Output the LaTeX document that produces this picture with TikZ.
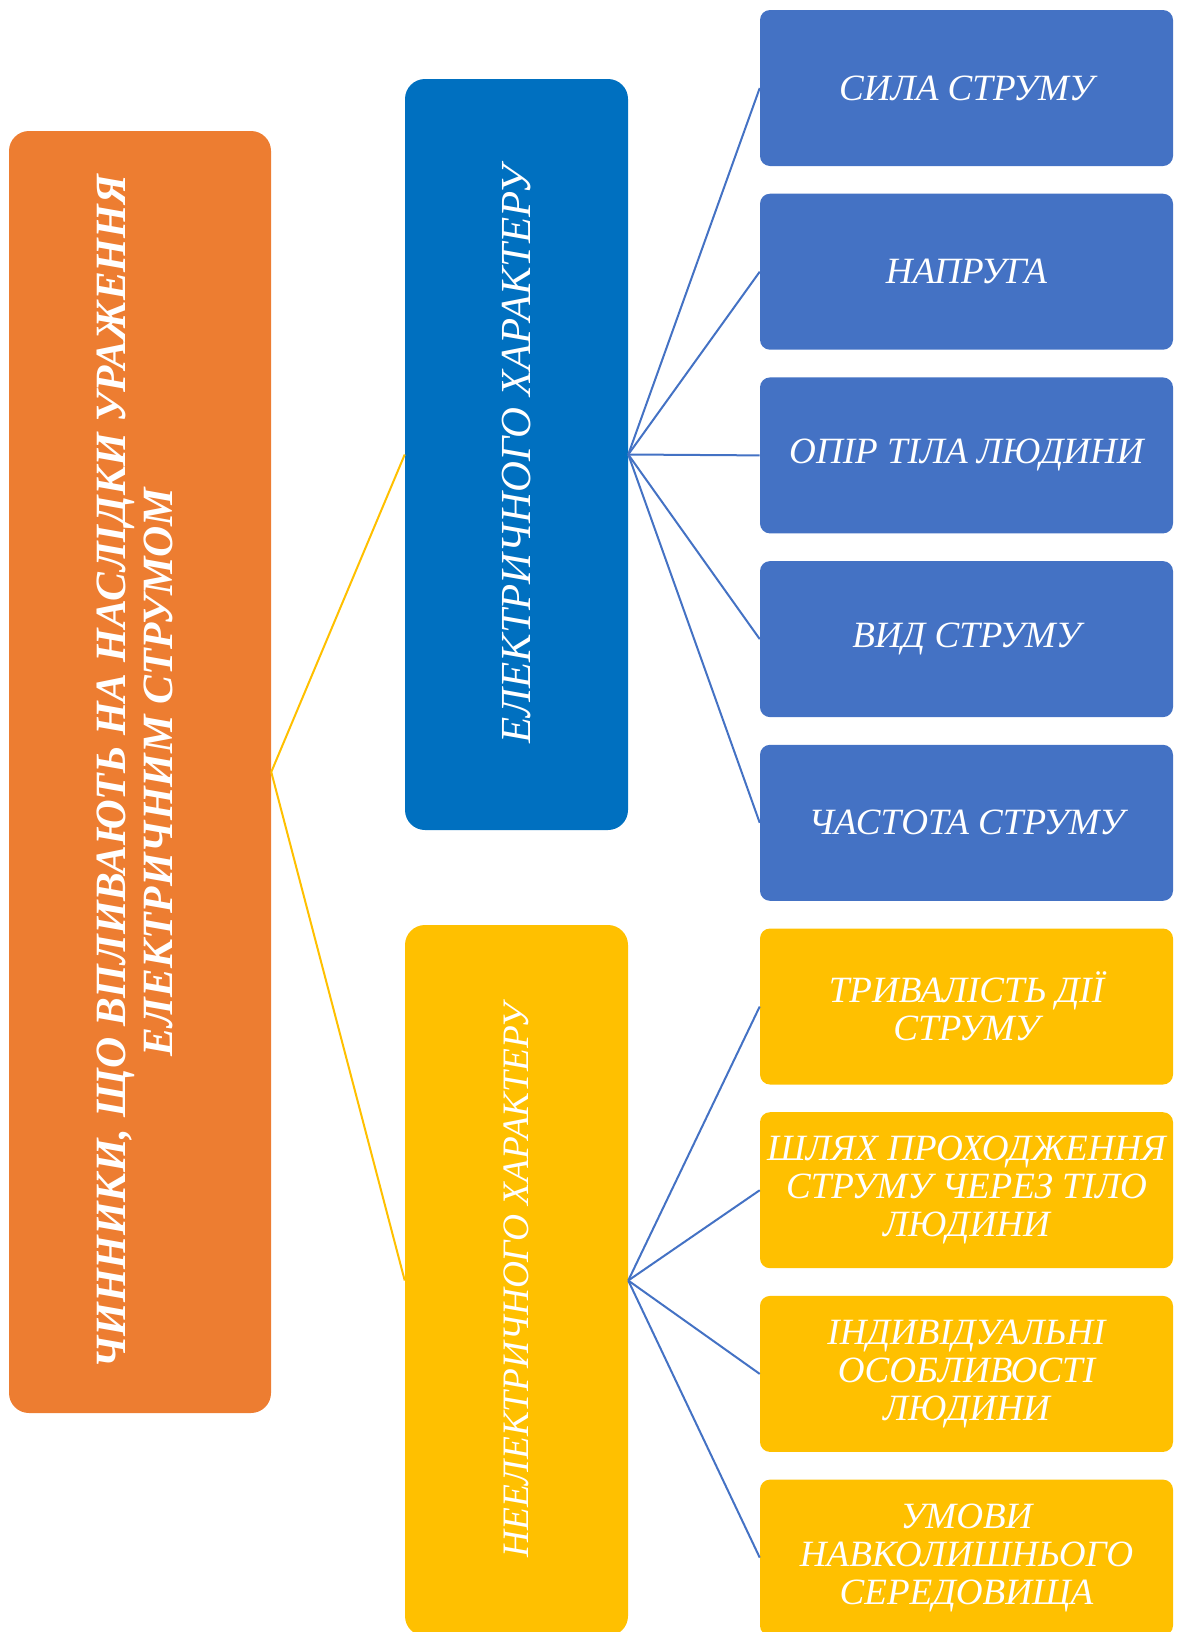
\documentclass[tikz,border=0pt]{standalone}
\usepackage{fontspec}
\setmainfont{Liberation Serif}
\definecolor{factorsorange}{HTML}{ED7D31}
\definecolor{elecblue}{HTML}{0070C0}
\definecolor{itemblue}{HTML}{4472C4}
\definecolor{nonelecyellow}{HTML}{FFC000}
\tikzset{
  mainbox/.style={rounded corners=15pt, inner sep=0pt, text=white, fill=factorsorange,
    minimum width=196.5pt, minimum height=961.5pt},
  midbox/.style={rounded corners=15pt, inner sep=0pt, text=white, minimum width=167.25pt},
  itembox/.style={rounded corners=7.5pt, inner sep=0pt, text=white, align=center,
    minimum width=309.75pt, minimum height=117pt,
    font=\fontsize{27.8}{28.5}\selectfont\itshape},
  link/.style={draw=itemblue, line width=1.5pt},
  mainlink/.style={draw=nonelecyellow, line width=1.5pt}
}
\begin{document}
\begin{tikzpicture}[x=0.75pt,y=-0.75pt]
\useasboundingbox (0,0) rectangle (1179,1632);
\node[mainbox] (factors) at (140,772) {\rotatebox{90}{\fontsize{32.4}{35}\selectfont\bfseries\itshape
  \begin{tabular}{@{}c@{}}ЧИННИКИ, ЩО ВПЛИВАЮТЬ НА НАСЛІДКИ УРАЖЕННЯ\\ЕЛЕКТРИЧНИМ СТРУМОМ\end{tabular}}};
\node[midbox, fill=elecblue, minimum height=563.25pt] (elec) at (516.5,454.5)
  {\rotatebox{90}{\fontsize{32.1}{32}\selectfont\itshape ЕЛЕКТРИЧНОГО ХАРАКТЕРУ}};
\node[midbox, fill=nonelecyellow, minimum height=533.25pt] (nonelec) at (516.5,1280.5)
  {\rotatebox{90}{\fontsize{28}{28}\selectfont\itshape НЕЕЛЕКТРИЧНОГО ХАРАКТЕРУ}};
% electrical factors
\node[itembox, fill=itemblue] (e1) at (966.5,88) {СИЛА СТРУМУ};
\node[itembox, fill=itemblue] (e2) at (966.5,271.7) {НАПРУГА};
\node[itembox, fill=itemblue] (e3) at (966.5,455.4) {ОПІР ТІЛА ЛЮДИНИ};
\node[itembox, fill=itemblue] (e4) at (966.5,639.1) {ВИД СТРУМУ};
\node[itembox, fill=itemblue] (e5) at (966.5,822.8) {ЧАСТОТА СТРУМУ};
% non-electrical factors
\node[itembox, fill=nonelecyellow] (n1) at (966.5,1006.5) {ТРИВАЛІСТЬ ДІЇ\\СТРУМУ};
\node[itembox, fill=nonelecyellow] (n2) at (966.5,1190.2) {ШЛЯХ ПРОХОДЖЕННЯ\\СТРУМУ ЧЕРЕЗ ТІЛО\\ЛЮДИНИ};
\node[itembox, fill=nonelecyellow] (n3) at (966.5,1373.9) {ІНДИВІДУАЛЬНІ\\ОСОБЛИВОСТІ\\ЛЮДИНИ};
\node[itembox, fill=nonelecyellow] (n4) at (966.5,1557.6) {УМОВИ\\НАВКОЛИШНЬОГО\\СЕРЕДОВИЩА};
\draw[mainlink] (factors.east) -- (elec.west);
\draw[mainlink] (factors.east) -- (nonelec.west);
\foreach \i in {e1,e2,e3,e4,e5}
  \draw[link] (elec.east) -- (\i.west);
\foreach \i in {n1,n2,n3,n4}
  \draw[link] (nonelec.east) -- (\i.west);
\end{tikzpicture}
\end{document}
